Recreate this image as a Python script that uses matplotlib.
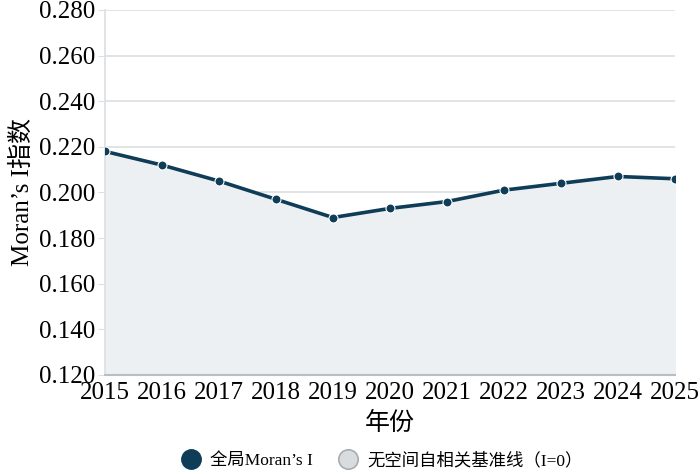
import matplotlib
import matplotlib.pyplot as plt
from matplotlib.lines import Line2D

matplotlib.use('Agg')
plt.rcParams['font.family'] = ['Liberation Serif', 'Noto Sans CJK SC']

YEARS = [2015, 2016, 2017, 2018, 2019, 2020, 2021, 2022, 2023, 2024, 2025]
MORAN_I = [0.218, 0.212, 0.205, 0.197, 0.189, 0.193, 0.196, 0.201, 0.204, 0.207, 0.206]
BASELINE = [0.0] * len(YEARS)
Y_TICKS = [0.120, 0.140, 0.160, 0.180, 0.200, 0.220, 0.240, 0.260, 0.280]

LINE_COLOR = '#0f3d58'
FILL_COLOR = '#edf0f2'
GRID_COLOR = '#dcdfe3'

fig = plt.figure(figsize=(7, 4.74), dpi=100)
ax = fig.add_axes([0.15, 0.209, 0.814, 0.77])

ax.fill_between(YEARS, MORAN_I, Y_TICKS[0], color=FILL_COLOR, zorder=1)
ax.plot(YEARS, MORAN_I, color=LINE_COLOR, lw=2.6, marker='o', markersize=6.5,
        markeredgecolor='white', markeredgewidth=0.8, zorder=3)
ax.plot(YEARS, BASELINE, color='#9aa3ab', lw=1, zorder=2)

ax.set_xlim(YEARS[0], YEARS[-1])
ax.set_ylim(Y_TICKS[0], Y_TICKS[-1])
ax.set_xticks(YEARS)
ax.set_yticks(Y_TICKS)
ax.set_yticklabels([f'{v:.3f}' for v in Y_TICKS])
ax.tick_params(labelsize=18, length=0)
ax.tick_params(axis='y', length=5, color=GRID_COLOR, pad=2)
ax.tick_params(axis='x', pad=5)

ax.grid(axis='y', color=GRID_COLOR, lw=1.2, zorder=0)
ax.set_axisbelow(True)
for side in ['top', 'right']:
    ax.spines[side].set_visible(False)
ax.spines['left'].set_color(GRID_COLOR)
ax.spines['left'].set_linewidth(1.2)
ax.spines['bottom'].set_color('#b9bec4')
ax.spines['bottom'].set_linewidth(1.5)

ax.set_xlabel('年份', fontsize=18, labelpad=6)
ax.set_ylabel("Moran’s I指数", fontsize=18, labelpad=4)

handles = [
    Line2D([], [], ls='none', marker='o', markersize=14, color=LINE_COLOR),
    Line2D([], [], ls='none', marker='o', markersize=14, markerfacecolor='#d9dcdf',
           markeredgecolor='#a7adb3', markeredgewidth=1.2),
]
fig.legend(handles, ['全局Moran’s I', '无空间自相关基准线（I=0）'], loc='center',
           bbox_to_anchor=(0.54, 0.028), ncol=2, frameon=False, fontsize=12.5,
           handletextpad=0.1, columnspacing=1.0)

fig.savefig('out.png', dpi=100)
